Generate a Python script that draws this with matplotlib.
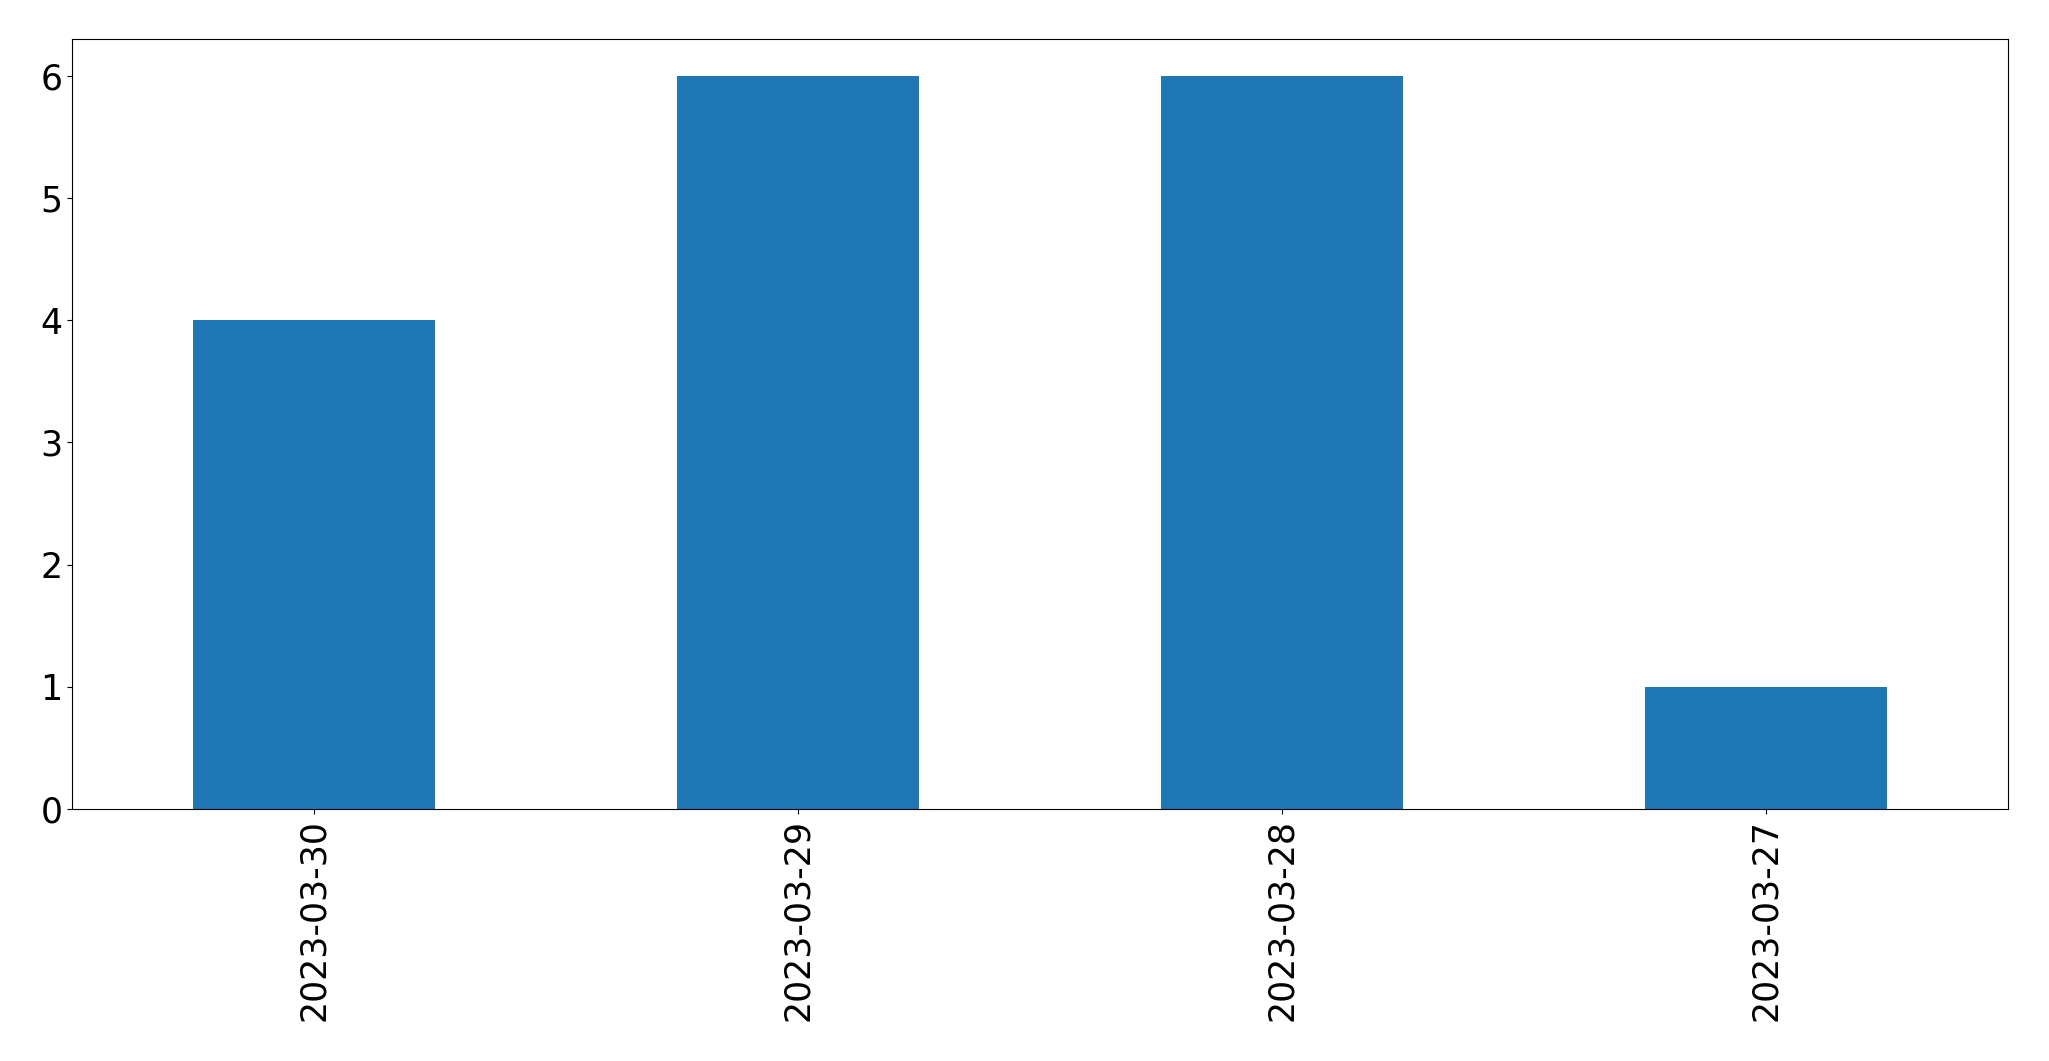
import matplotlib
matplotlib.use("Agg")
import matplotlib.pyplot as plt
import pandas as pd

dates = ["2023-03-30", "2023-03-29", "2023-03-28", "2023-03-27"]
counts = [4, 6, 6, 1]

s = pd.Series(counts, index=dates)

fig = plt.figure(figsize=(20.49, 10.61), dpi=100)
ax = fig.add_axes([72 / 2049, 1 - 809 / 1061, (2008 - 72) / 2049, (809 - 39) / 1061])
s.plot(kind="bar", ax=ax, color="#1f77b4", fontsize=25)
ax.tick_params(axis="x", labelrotation=90)
fig.savefig("out.png", dpi=100)
